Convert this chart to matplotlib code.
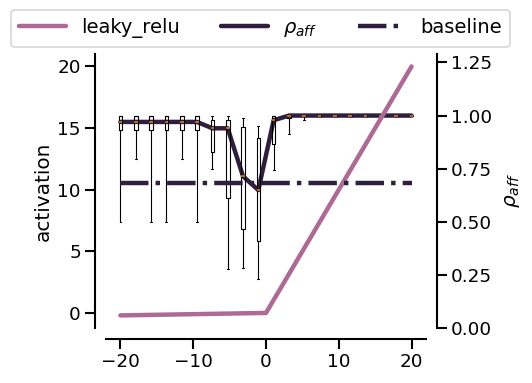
import matplotlib
matplotlib.use("Agg")
import matplotlib.pyplot as plt
import numpy as np
import seaborn as sns

sns.set_context("talk")
sns.set_style("ticks")
plt.rcParams.update({"text.color": "black", "axes.labelcolor": "black",
                     "xtick.color": "black", "ytick.color": "black",
                     "axes.edgecolor": "black"})

# activation curve (left axis)
act_x = [-20, 0, 20]
act_y = [-0.2, 0.0, 20.0]

# rho_aff distribution per input value (right axis)
rho_x = np.linspace(-20, 20, 20)
rho_med = [0.97, 0.97, 0.97, 0.97, 0.97, 0.97, 0.94, 0.94, 0.714, 0.649,
           0.978, 1.0, 1.0, 1.0, 1.0, 1.0, 1.0, 1.0, 1.0, 1.0]
rho_q1 = [0.932, 0.932, 0.932, 0.932, 0.932, 0.932, 0.829, 0.61, 0.467, 0.411,
          0.868, 0.99, 1.0, 1.0, 1.0, 1.0, 1.0, 1.0, 1.0, 1.0]
rho_q3 = [1.0, 1.0, 1.0, 1.0, 1.0, 1.0, 0.978, 0.978, 0.946, 0.895,
          1.0, 1.0, 1.0, 1.0, 1.0, 1.0, 1.0, 1.0, 1.0, 1.0]
rho_lo = [0.50, 0.794, 0.50, 0.50, 0.794, 0.50, 0.748, 0.275, 0.282, 0.23,
          0.744, 0.911, 0.978, 1.0, 1.0, 1.0, 1.0, 1.0, 1.0, 1.0]
rho_hi = [1.0, 1.0, 1.0, 1.0, 1.0, 1.0, 0.997, 0.997, 0.987, 0.949,
          1.0, 1.0, 1.0, 1.0, 1.0, 1.0, 1.0, 1.0, 1.0, 1.0]
baseline = 0.682

c_act = "#ad6a94"
c_dark = "#2e1f3f"
c_med = "#e07a1f"

fig, ax = plt.subplots(figsize=(6.65, 4.7875), dpi=80)
fig.subplots_adjust(left=0.199, right=0.801, bottom=0.144, top=0.859)
ax2 = ax.twinx()
# left axes on top so the activation line sits above the rho line
ax.set_zorder(ax2.get_zorder() + 1)
ax.patch.set_visible(False)

l1, = ax.plot(act_x, act_y, color=c_act, lw=4, label="leaky_relu")
ax.set_xlim(-22, 22)
ax.set_ylim(-1.21, 21.01)
ax.set_ylabel("activation")
ax.set_xticks([-20, -10, 0, 10, 20])
ax.set_yticks([0, 5, 10, 15, 20])

l2, = ax2.plot(rho_x, rho_med, color=c_dark, lw=4, label=r"$\rho_{aff}$")
stats = [dict(med=m, q1=a, q3=b, whislo=lo, whishi=hi, fliers=[])
         for m, a, b, lo, hi in zip(rho_med, rho_q1, rho_q3, rho_lo, rho_hi)]
ax2.bxp(stats, positions=rho_x, widths=0.5, manage_ticks=False,
        showfliers=False,
        medianprops=dict(color=c_med, lw=1.5),
        boxprops=dict(color="black", lw=1),
        whiskerprops=dict(color="black", lw=1),
        capprops=dict(color="black", lw=1))
ax2.set_ylim(0, 1.29)
ax2.set_yticks([0, 0.25, 0.5, 0.75, 1.0, 1.25])
ax2.set_ylabel(r"$\rho_{aff}$", labelpad=10)

# baseline in rho units, drawn above the activation line
l3, = ax.plot([-20, 20], [baseline, baseline], color=c_dark, lw=4,
              ls="-.", label="baseline", transform=ax2.transData)

for s in ["top", "right"]:
    ax.spines[s].set_visible(False)
for s in ["left", "bottom"]:
    ax.spines[s].set_position(("outward", 10))
for s in ["top", "left", "bottom"]:
    ax2.spines[s].set_visible(False)
ax2.spines["right"].set_position(("outward", 10))

ax.legend([l1, l2, l3], ["leaky_relu", r"$\rho_{aff}$", "baseline"],
          loc="lower center", bbox_to_anchor=(0.483, 0.99), ncol=3,
          fontsize=17.5, handlelength=2.4, handletextpad=0.8,
          columnspacing=2.1)

fig.savefig("out.png", dpi=80)
